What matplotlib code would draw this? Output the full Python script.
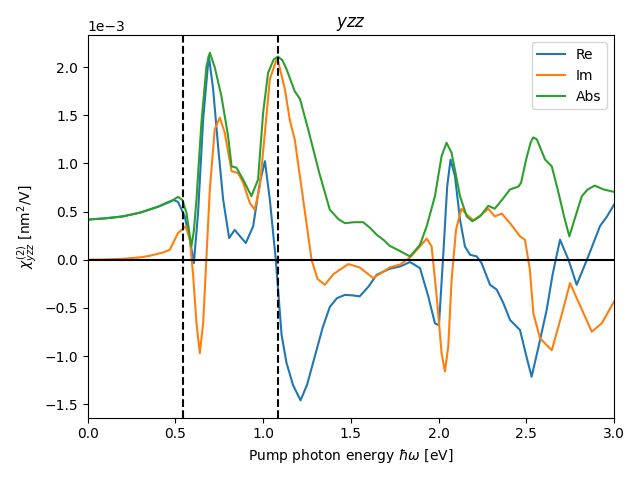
import numpy as np
import matplotlib
matplotlib.use("Agg")
import matplotlib.pyplot as plt

# values, in units of 1e-3 nm^2/V
abs_x = [0, 0.1, 0.2, 0.3, 0.4, 0.468, 0.515, 0.54, 0.563, 0.58, 0.591, 0.605, 0.62,
         0.648, 0.677, 0.696, 0.724, 0.762, 0.80, 0.82, 0.848, 0.886, 0.933, 0.971, 1.0,
         1.028, 1.06, 1.085, 1.11, 1.133, 1.18, 1.21, 1.26, 1.32, 1.38, 1.43, 1.466, 1.52,
         1.57, 1.61, 1.647, 1.69, 1.72, 1.78, 1.837, 1.894, 1.932, 1.979, 2.017, 2.045,
         2.074, 2.122, 2.16, 2.192, 2.236, 2.283, 2.32, 2.369, 2.407, 2.455, 2.47, 2.5,
         2.525, 2.54, 2.56, 2.607, 2.645, 2.68, 2.715, 2.745, 2.78, 2.816, 2.85, 2.89,
         2.94, 3.0]
abs_y = [0.417, 0.43, 0.45, 0.49, 0.55, 0.60, 0.653, 0.62, 0.486, 0.27, 0.139, 0.3, 0.625,
         1.42, 2.01, 2.15, 2.0, 1.70, 1.285, 0.97, 0.955, 0.833, 0.66, 0.833, 1.53, 1.94,
         2.08, 2.11, 2.07, 1.98, 1.75, 1.67, 1.33, 0.9, 0.52, 0.42, 0.38, 0.39, 0.39, 0.33,
         0.26, 0.2, 0.146, 0.09, 0.034, 0.156, 0.347, 0.66, 1.076, 1.215, 1.11, 0.66, 0.45,
         0.40, 0.45, 0.56, 0.53, 0.64, 0.73, 0.76, 0.8, 1.05, 1.22, 1.27, 1.25, 1.04, 0.97,
         0.72, 0.45, 0.243, 0.45, 0.66, 0.73, 0.77, 0.73, 0.705]

re_x = [0, 0.1, 0.2, 0.3, 0.4, 0.46, 0.49, 0.515, 0.553, 0.582, 0.605, 0.629, 0.658, 0.69,
        0.715, 0.743, 0.772, 0.806, 0.838, 0.87, 0.901, 0.943, 0.981, 1.01, 1.038, 1.072,
        1.105, 1.133, 1.17, 1.213, 1.25, 1.304, 1.34, 1.38, 1.42, 1.466, 1.51, 1.55, 1.6,
        1.647, 1.72, 1.78, 1.837, 1.894, 1.941, 1.979, 2.002, 2.027, 2.049, 2.068, 2.093,
        2.122, 2.15, 2.179, 2.217, 2.245, 2.293, 2.331, 2.369, 2.407, 2.464, 2.5, 2.53,
        2.57, 2.616, 2.65, 2.692, 2.74, 2.787, 2.853, 2.92, 2.96, 3.0]
re_y = [0.417, 0.43, 0.45, 0.49, 0.55, 0.6, 0.62, 0.60, 0.45, 0.21, -0.035, 0.486, 1.46,
        2.12, 1.77, 1.18, 0.625, 0.226, 0.31, 0.24, 0.174, 0.347, 0.80, 1.024, 0.625, 0.0,
        -0.78, -1.07, -1.3, -1.46, -1.3, -0.94, -0.7, -0.49, -0.4, -0.365, -0.37, -0.38,
        -0.28, -0.156, -0.094, -0.07, -0.024, -0.087, -0.38, -0.66, -0.68, 0.07, 0.764,
        1.04, 0.87, 0.417, 0.139, 0.052, 0.035, -0.035, -0.26, -0.31, -0.45, -0.625, -0.73,
        -1.0, -1.215, -0.9, -0.52, -0.15, 0.208, 0.0, -0.26, 0.035, 0.35, 0.45, 0.573]

im_x = [0, 0.1, 0.2, 0.3, 0.35, 0.43, 0.468, 0.515, 0.559, 0.582, 0.60, 0.62, 0.639,
        0.658, 0.677, 0.696, 0.724, 0.753, 0.781, 0.82, 0.857, 0.886, 0.924, 0.952, 0.981,
        1.01, 1.038, 1.08, 1.124, 1.152, 1.18, 1.23, 1.276, 1.31, 1.352, 1.4, 1.485, 1.55,
        1.627, 1.68, 1.72, 1.78, 1.837, 1.894, 1.932, 1.96, 1.989, 2.017, 2.036, 2.055,
        2.074, 2.099, 2.13, 2.16, 2.198, 2.245, 2.283, 2.32, 2.36, 2.407, 2.464, 2.492,
        2.52, 2.54, 2.578, 2.645, 2.70, 2.749, 2.8, 2.873, 2.93, 3.0]
im_y = [0, 0.003, 0.01, 0.025, 0.04, 0.075, 0.104, 0.278, 0.347, 0.21, -0.139, -0.66,
        -0.97, -0.66, 0.035, 0.73, 1.354, 1.476, 1.32, 0.92, 0.90, 0.80, 0.59, 0.52, 0.764,
        1.32, 1.875, 2.10, 1.77, 1.45, 1.25, 0.6, 0.0, -0.2, -0.26, -0.15, -0.045, -0.08,
        -0.19, -0.13, -0.08, -0.05, 0.024, 0.139, 0.22, 0.139, -0.38, -0.97, -1.16, -0.90,
        -0.21, 0.31, 0.53, 0.47, 0.41, 0.47, 0.53, 0.45, 0.48, 0.38, 0.243, 0.208, -0.1,
        -0.555, -0.816, -0.94, -0.58, -0.243, -0.45, -0.747, -0.66, -0.434]

gap_lines = [0.542, 1.084]

fig, ax = plt.subplots(figsize=(6.4, 4.8), dpi=100)
ax.plot(re_x, np.array(re_y) * 1e-3, label="Re")
ax.plot(im_x, np.array(im_y) * 1e-3, label="Im")
ax.plot(abs_x, np.array(abs_y) * 1e-3, label="Abs")
ax.axhline(0, color="k")
for e in gap_lines:
    ax.axvline(e, color="k", linestyle="--")
ax.set_xlim(0, 3)
ax.ticklabel_format(axis="y", style="sci", scilimits=(0, 0))
ax.set_title("$yzz$")
ax.set_xlabel(r"Pump photon energy $\hbar\omega$ [eV]")
ax.set_ylabel(r"$\chi^{(2)}_{yzz}$ [nm$^2$/V]")
ax.legend(loc="upper right")
fig.tight_layout()
fig.savefig("out.png")
